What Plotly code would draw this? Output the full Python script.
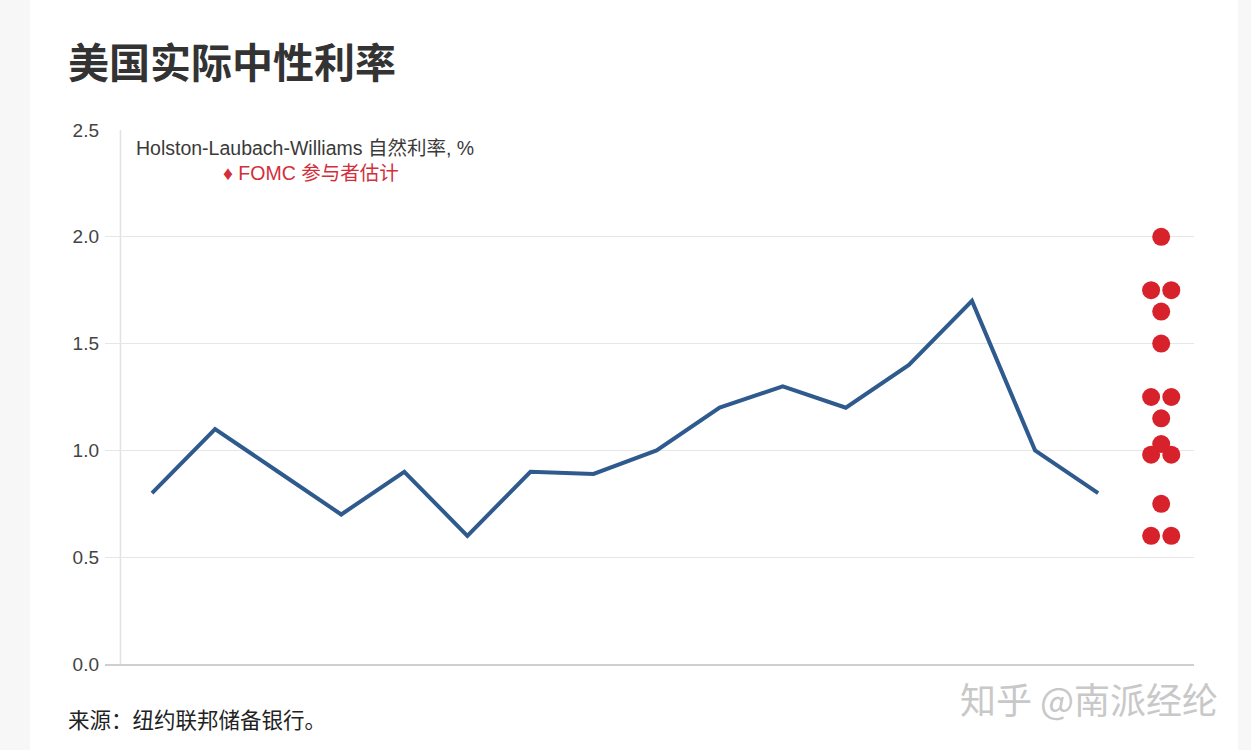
import plotly.graph_objects as go
from collections import Counter

# ---- data ----
hlw_values = [0.80, 1.10, 0.90, 0.70, 0.90, 0.60, 0.90, 0.89, 1.00, 1.20,
              1.30, 1.20, 1.40, 1.70, 1.00, 0.80]
fomc_values = [2.0, 1.75, 1.75, 1.65, 1.5, 1.25, 1.25, 1.15, 1.03, 0.98, 0.98,
               0.75, 0.6, 0.6]
y_ticks = [0.0, 0.5, 1.0, 1.5, 2.0, 2.5]

title_text = "美国实际中性利率"
series_label = "Holston-Laubach-Williams 自然利率, %"
fomc_label = "♦ FOMC 参与者估计"
source_text = "来源：纽约联邦储备银行。"
watermark = "知乎 @南派经纶"

# ---- derived positions ----
hlw_x = list(range(len(hlw_values)))
dot_center = len(hlw_values)  # one slot to the right of the line
counts = Counter(fomc_values)
seen = Counter()
fomc_x = []
for v in fomc_values:
    n = counts[v]
    k = seen[v]
    seen[v] += 1
    fomc_x.append(dot_center + (k - (n - 1) / 2) * 0.32)

FONT = "Liberation Sans, Arial, Noto Sans CJK SC, sans-serif"
CJK = "Noto Sans CJK SC, sans-serif"

L, R, T, B = 105, 57, 130, 86
PW, PH = 1251 - L - R, 750 - T - B


def px(xp):
    return (xp - L) / PW


def py(yp):
    return (750 - B - yp) / PH


fig = go.Figure()
fig.add_trace(go.Scatter(
    x=hlw_x, y=hlw_values, mode="lines",
    line=dict(color="#2f5a8e", width=4), hoverinfo="skip", showlegend=False))
fig.add_trace(go.Scatter(
    x=fomc_x, y=fomc_values, mode="markers",
    marker=dict(color="#d7222b", size=18, line=dict(width=0)),
    hoverinfo="skip", showlegend=False))

fig.update_layout(
    width=1251, height=750,
    margin=dict(l=L, r=R, t=T, b=B),
    paper_bgcolor="#f7f7f7",
    plot_bgcolor="white",
    showlegend=False,
    xaxis=dict(range=[-0.745, 16.52], showticklabels=False, showgrid=False,
               zeroline=False, showline=True, linecolor="#cfcfcf", linewidth=1.5,
               ticks=""),
    yaxis=dict(range=[0, 2.5], tickvals=y_ticks,
               ticktext=[f"{t:.1f}" for t in y_ticks],
               showgrid=True, gridcolor="#e6e6e6", gridwidth=1.2,
               zeroline=False, showline=False,
               tickfont=dict(family=FONT, size=19, color="#444"),
               ticks="", ticklabelstandoff=5),
    shapes=[
        dict(type="rect", xref="paper", yref="paper",
             x0=px(30), x1=px(1238), y0=py(760), y1=py(-10),
             fillcolor="white", line=dict(width=0), layer="below"),
        dict(type="line", xref="x", yref="y", x0=-0.5, x1=-0.5, y0=0, y1=2.5,
             line=dict(color="#e2e2e2", width=1.5), layer="below"),
    ],
    annotations=[
        dict(text=f"<b>{title_text}</b>", xref="paper", yref="paper",
             x=px(66), y=py(60), xanchor="left", yanchor="middle",
             showarrow=False, font=dict(family=CJK, size=41, color="#333")),
        dict(text=series_label, xref="paper", yref="paper",
             x=px(134), y=py(148), xanchor="left", yanchor="middle",
             showarrow=False, font=dict(family=FONT, size=19.5, color="#3a3a3a")),
        dict(text=fomc_label, xref="paper", yref="paper",
             x=px(221), y=py(173), xanchor="left", yanchor="middle",
             showarrow=False, font=dict(family=FONT, size=19.5, color="#d32f3a")),
        dict(text=source_text, xref="paper", yref="paper",
             x=px(66), y=py(718), xanchor="left", yanchor="middle",
             showarrow=False, font=dict(family=CJK, size=21.5, color="#222")),
        dict(text=watermark, xref="paper", yref="paper",
             x=px(1220), y=py(698), xanchor="right", yanchor="middle",
             showarrow=False, font=dict(family=CJK, size=36, color="#c8c8c8")),
    ],
)

fig.write_html("out.html", config={"displayModeBar": False},
               post_script="document.body.style.margin='0';")
